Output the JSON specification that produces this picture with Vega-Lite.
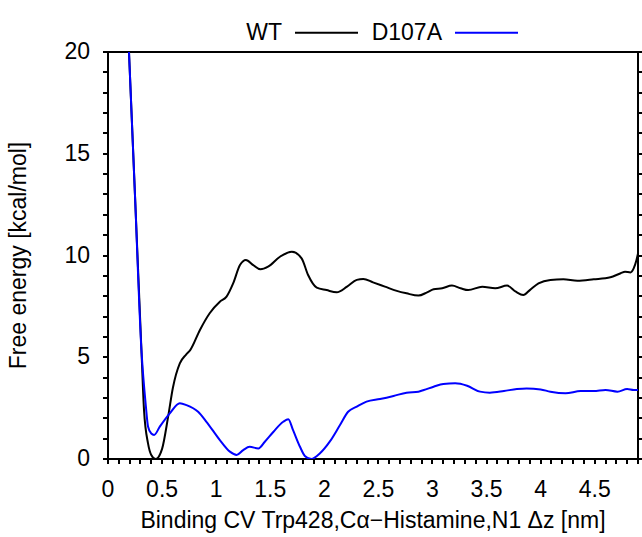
{
  "$schema": "https://vega.github.io/schema/vega-lite/v6.json",
  "width": 530,
  "height": 407,
  "autosize": "none",
  "padding": {"left": 108, "top": 52, "right": 4, "bottom": 78},
  "config": {
    "font": "Liberation Sans",
    "view": {"stroke": "#000000", "strokeWidth": 2},
    "axis": {
      "domain": true,
      "domainColor": "#000000",
      "domainWidth": 2,
      "translate": 0,
      "grid": false,
      "ticks": true,
      "tickColor": "#000000",
      "tickWidth": 2,
      "labelColor": "#000000",
      "labelFont": "Liberation Sans",
      "labelFontSize": 23,
      "titleFont": "Liberation Sans",
      "titleFontSize": 23,
      "titleFontWeight": "normal",
      "titleColor": "#000000"
    },
    "legend": {
      "labelFont": "Liberation Sans",
      "labelFontSize": 23,
      "labelColor": "#000000"
    }
  },
  "data": {
    "values": [
      {"s": "WT", "x": 0.194, "y": 20},
      {"s": "WT", "x": 0.25, "y": 12.9},
      {"s": "WT", "x": 0.309, "y": 5.36},
      {"s": "WT", "x": 0.333, "y": 2.4},
      {"s": "WT", "x": 0.37, "y": 0.77},
      {"s": "WT", "x": 0.40, "y": 0.2},
      {"s": "WT", "x": 0.44, "y": 0.0},
      {"s": "WT", "x": 0.5, "y": 0.5},
      {"s": "WT", "x": 0.556, "y": 2.08},
      {"s": "WT", "x": 0.60, "y": 3.5},
      {"s": "WT", "x": 0.664, "y": 4.7},
      {"s": "WT", "x": 0.72, "y": 5.12},
      {"s": "WT", "x": 0.76, "y": 5.35},
      {"s": "WT", "x": 0.85, "y": 6.34},
      {"s": "WT", "x": 0.94, "y": 7.16},
      {"s": "WT", "x": 1.034, "y": 7.73},
      {"s": "WT", "x": 1.096, "y": 7.98},
      {"s": "WT", "x": 1.157, "y": 8.63},
      {"s": "WT", "x": 1.22, "y": 9.53},
      {"s": "WT", "x": 1.275, "y": 9.78},
      {"s": "WT", "x": 1.343, "y": 9.53},
      {"s": "WT", "x": 1.41, "y": 9.32},
      {"s": "WT", "x": 1.48, "y": 9.45},
      {"s": "WT", "x": 1.59, "y": 9.94},
      {"s": "WT", "x": 1.70, "y": 10.19},
      {"s": "WT", "x": 1.79, "y": 9.86},
      {"s": "WT", "x": 1.85, "y": 9.04},
      {"s": "WT", "x": 1.93, "y": 8.42},
      {"s": "WT", "x": 2.02, "y": 8.3},
      {"s": "WT", "x": 2.115, "y": 8.19},
      {"s": "WT", "x": 2.21, "y": 8.47},
      {"s": "WT", "x": 2.30, "y": 8.8},
      {"s": "WT", "x": 2.36, "y": 8.85},
      {"s": "WT", "x": 2.45, "y": 8.68},
      {"s": "WT", "x": 2.56, "y": 8.47},
      {"s": "WT", "x": 2.67, "y": 8.26},
      {"s": "WT", "x": 2.76, "y": 8.14},
      {"s": "WT", "x": 2.87, "y": 8.03},
      {"s": "WT", "x": 2.95, "y": 8.19},
      {"s": "WT", "x": 3.01, "y": 8.34},
      {"s": "WT", "x": 3.09, "y": 8.39},
      {"s": "WT", "x": 3.18, "y": 8.52},
      {"s": "WT", "x": 3.26, "y": 8.39},
      {"s": "WT", "x": 3.33, "y": 8.3},
      {"s": "WT", "x": 3.46, "y": 8.47},
      {"s": "WT", "x": 3.58, "y": 8.39},
      {"s": "WT", "x": 3.69, "y": 8.52},
      {"s": "WT", "x": 3.77, "y": 8.22},
      {"s": "WT", "x": 3.84, "y": 8.06},
      {"s": "WT", "x": 3.90, "y": 8.3},
      {"s": "WT", "x": 3.98, "y": 8.63},
      {"s": "WT", "x": 4.09, "y": 8.8},
      {"s": "WT", "x": 4.21, "y": 8.83},
      {"s": "WT", "x": 4.34, "y": 8.76},
      {"s": "WT", "x": 4.49, "y": 8.83},
      {"s": "WT", "x": 4.645, "y": 8.93},
      {"s": "WT", "x": 4.74, "y": 9.13},
      {"s": "WT", "x": 4.78, "y": 9.2},
      {"s": "WT", "x": 4.83, "y": 9.17},
      {"s": "WT", "x": 4.86, "y": 9.37},
      {"s": "WT", "x": 4.886, "y": 9.78},
      {"s": "WT", "x": 4.90, "y": 10.1},
      {"s": "D107A", "x": 0.194, "y": 20},
      {"s": "D107A", "x": 0.25, "y": 12.9},
      {"s": "D107A", "x": 0.309, "y": 5.36},
      {"s": "D107A", "x": 0.35, "y": 2.6},
      {"s": "D107A", "x": 0.37, "y": 1.6},
      {"s": "D107A", "x": 0.40, "y": 1.25},
      {"s": "D107A", "x": 0.426, "y": 1.18},
      {"s": "D107A", "x": 0.479, "y": 1.59},
      {"s": "D107A", "x": 0.571, "y": 2.24},
      {"s": "D107A", "x": 0.664, "y": 2.74},
      {"s": "D107A", "x": 0.726, "y": 2.65},
      {"s": "D107A", "x": 0.833, "y": 2.32},
      {"s": "D107A", "x": 0.91, "y": 1.83},
      {"s": "D107A", "x": 1.034, "y": 0.93},
      {"s": "D107A", "x": 1.127, "y": 0.36},
      {"s": "D107A", "x": 1.189, "y": 0.2},
      {"s": "D107A", "x": 1.25, "y": 0.44},
      {"s": "D107A", "x": 1.31, "y": 0.6},
      {"s": "D107A", "x": 1.39, "y": 0.52},
      {"s": "D107A", "x": 1.45, "y": 0.85},
      {"s": "D107A", "x": 1.53, "y": 1.34},
      {"s": "D107A", "x": 1.62, "y": 1.83},
      {"s": "D107A", "x": 1.667, "y": 1.95},
      {"s": "D107A", "x": 1.71, "y": 1.43},
      {"s": "D107A", "x": 1.775, "y": 0.6},
      {"s": "D107A", "x": 1.82, "y": 0.15},
      {"s": "D107A", "x": 1.88, "y": 0.0},
      {"s": "D107A", "x": 1.96, "y": 0.28},
      {"s": "D107A", "x": 2.05, "y": 0.85},
      {"s": "D107A", "x": 2.145, "y": 1.67},
      {"s": "D107A", "x": 2.22, "y": 2.32},
      {"s": "D107A", "x": 2.30, "y": 2.57},
      {"s": "D107A", "x": 2.39, "y": 2.82},
      {"s": "D107A", "x": 2.515, "y": 2.95},
      {"s": "D107A", "x": 2.64, "y": 3.1},
      {"s": "D107A", "x": 2.76, "y": 3.26},
      {"s": "D107A", "x": 2.87, "y": 3.31},
      {"s": "D107A", "x": 2.92, "y": 3.39},
      {"s": "D107A", "x": 3.01, "y": 3.55},
      {"s": "D107A", "x": 3.10, "y": 3.69},
      {"s": "D107A", "x": 3.21, "y": 3.72},
      {"s": "D107A", "x": 3.32, "y": 3.6},
      {"s": "D107A", "x": 3.44, "y": 3.31},
      {"s": "D107A", "x": 3.53, "y": 3.26},
      {"s": "D107A", "x": 3.66, "y": 3.34},
      {"s": "D107A", "x": 3.78, "y": 3.44},
      {"s": "D107A", "x": 3.87, "y": 3.47},
      {"s": "D107A", "x": 4.00, "y": 3.42},
      {"s": "D107A", "x": 4.09, "y": 3.31},
      {"s": "D107A", "x": 4.23, "y": 3.23},
      {"s": "D107A", "x": 4.37, "y": 3.34},
      {"s": "D107A", "x": 4.49, "y": 3.34},
      {"s": "D107A", "x": 4.60, "y": 3.39},
      {"s": "D107A", "x": 4.71, "y": 3.31},
      {"s": "D107A", "x": 4.80, "y": 3.44},
      {"s": "D107A", "x": 4.86, "y": 3.39},
      {"s": "D107A", "x": 4.90, "y": 3.39}
    ]
  },
  "layer": [
    {
      "mark": {"type": "line", "interpolate": "monotone", "strokeWidth": 2, "clip": true},
      "encoding": {
        "x": {
          "field": "x", "type": "quantitative",
          "scale": {"domain": [0, 4.9], "nice": false, "zero": false},
          "axis": {
            "orient": "bottom",
            "title": "Binding CV Trp428,Cα−Histamine,N1 Δz [nm]",
            "values": [0,0.1,0.2,0.3,0.4,0.5,0.6,0.7,0.8,0.9,1,1.1,1.2,1.3,1.4,1.5,1.6,1.7,1.8,1.9,2,2.1,2.2,2.3,2.4,2.5,2.6,2.7,2.8,2.9,3,3.1,3.2,3.3,3.4,3.5,3.6,3.7,3.8,3.9,4,4.1,4.2,4.3,4.4,4.5,4.6,4.7,4.8,4.9],
            "labelExpr": "abs(datum.value*2 - round(datum.value*2)) < 0.001 ? '' + datum.value : ''",
            "tickSize": 5,
            "labelPadding": 15,
            "labelFlush": false,
            "labelOverlap": false,
            "titlePadding": 8
          }
        },
        "y": {
          "field": "y", "type": "quantitative",
          "scale": {"domain": [0, 20], "nice": false},
          "axis": {
            "orient": "left",
            "title": "Free energy [kcal/mol]",
            "values": [0,1,2,3,4,5,6,7,8,9,10,11,12,13,14,15,16,17,18,19,20],
            "labelExpr": "datum.value % 5 === 0 ? '' + datum.value : ''",
            "tickSize": 5,
            "labelPadding": 13,
            "labelFlush": false,
            "labelOverlap": false,
            "titlePadding": 33
          }
        },
        "color": {
          "field": "s", "type": "nominal",
          "scale": {"domain": ["WT", "D107A"], "range": ["#000000", "#0000ff"]},
          "legend": {
            "title": null,
            "orient": "none",
            "direction": "horizontal",
            "legendX": 186,
            "legendY": -52,
            "symbolType": "stroke",
            "symbolSize": 3969,
            "symbolStrokeWidth": 2,
            "labelAlign": "right",
            "labelOffset": -77,
            "columnPadding": 9,
            "padding": 0
          }
        }
      }
    },
    {
      "mark": {"type": "line", "opacity": 0},
      "encoding": {
        "x": {
          "field": "x", "type": "quantitative",
          "axis": {"orient": "top", "title": null, "labels": false, "ticks": false}
        },
        "y": {
          "field": "y", "type": "quantitative",
          "axis": {
            "orient": "right",
            "title": null,
            "values": [0,1,2,3,4,5,6,7,8,9,10,11,12,13,14,15,16,17,18,19,20],
            "labels": false,
            "tickSize": 4
          }
        }
      }
    }
  ],
  "resolve": {"axis": {"x": "independent", "y": "independent"}}
}
